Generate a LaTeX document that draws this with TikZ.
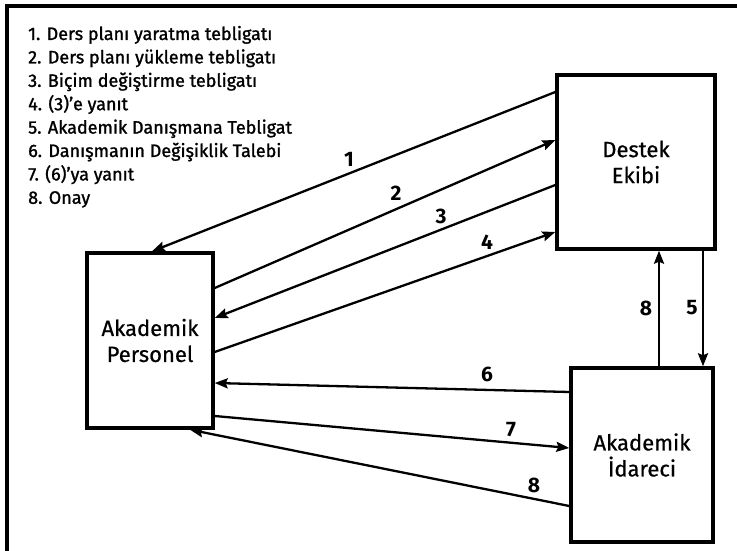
\documentclass[tikz,border=0pt]{standalone}
\usepackage{fontspec}
\setmainfont{Fira Sans}
\newfontfamily\legfont{Fira Sans}[FakeBold=1.3]
\newfontfamily\boxfont{Fira Sans}[FakeBold=0.6]
\usetikzlibrary{arrows.meta}
\begin{document}
\begin{tikzpicture}[x=1pt,y=-1pt,
  box/.style={draw,line width=3.4pt,minimum width=#1,inner sep=0pt,align=center,font=\boxfont\fontsize{22}{26}\selectfont},
  conn/.style={line width=2.3pt,-{Stealth[length=13pt,width=10pt,inset=2pt]}},
  num/.style={font=\fontsize{21}{21}\selectfont\bfseries,inner sep=0pt},
  leg/.style={anchor=base west,inner sep=0pt,font=\legfont\fontsize{18}{18}\selectfont}]
\useasboundingbox (0,0) rectangle (737,551);
\draw[line width=3.4pt] (7,551) -- (7,6) -- (737,6);
% legend
\node[leg] (leg1) at (28,40) {1. Ders planı yaratma tebligatı};
\node[leg] (leg2) at (28,63.4) {2. Ders planı yükleme tebligatı};
\node[leg] (leg3) at (28,86.8) {3. Biçim değiştirme tebligatı};
\node[leg] (leg4) at (28,110.2) {4. (3)’e yanıt};
\node[leg] (leg5) at (28,133.6) {5. Akademik Danışmana Tebligat};
\node[leg] (leg6) at (28,157) {6. Danışmanın Değişiklik Talebi};
\node[leg] (leg7) at (28,180.4) {7. (6)’ya yanıt};
\node[leg] (leg8) at (28,203.8) {8. Onay};
% boxes
\node[box=158pt,minimum height=174pt] (destek) at (636,162) {Destek\\Ekibi};
\node[box=142pt,minimum height=174pt] (idareci) at (642,455) {Akademik\\İdareci};
\node[box=126pt,minimum height=175pt] (personel) at (150,340.5) {Akademik\\Personel};
% connectors
\draw[conn] ([yshift=70pt]destek.west) -- ([xshift=2pt]personel.north);
\draw[conn] ([yshift=52.5pt]personel.east) -- ([yshift=22pt]destek.west);
\draw[conn] ([yshift=-23pt]destek.west) -- ([yshift=22.5pt]personel.east);
\draw[conn] ([yshift=-11.5pt]personel.east) -- ([yshift=-70pt]destek.west);
\draw[conn] ([xshift=67pt]destek.south) -- ([xshift=61pt]idareci.north);
\draw[conn] ([xshift=17pt]idareci.north) -- ([xshift=23pt]destek.south);
\draw[conn] ([yshift=63pt]idareci.west) -- ([yshift=-42.5pt]personel.east);
\draw[conn] ([yshift=-75.5pt]personel.east) -- ([yshift=7pt]idareci.west);
\draw[conn] ([yshift=-51pt]idareci.west) -- ([xshift=40pt]personel.south);
% labels
\node[num] (n1) at (349,159) {1};
\node[num] (n2) at (396,193) {2};
\node[num] (n3) at (441,216) {3};
\node[num] (n4) at (487,242) {4};
\node[num] (n5) at (692,308) {5};
\node[num] (n8a) at (646,308) {8};
\node[num] (n6) at (487,374) {6};
\node[num] (n7) at (511,430) {7};
\node[num] (n8b) at (534,485) {8};
\end{tikzpicture}
\end{document}
